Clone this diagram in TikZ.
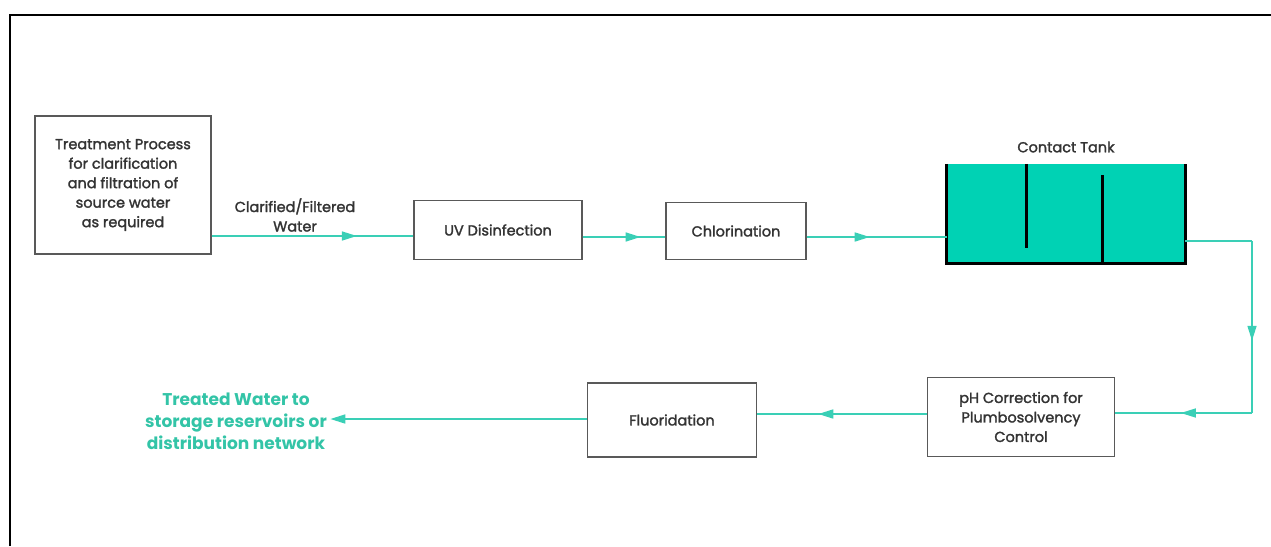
\documentclass[tikz,border=0pt]{standalone}
\usepackage{fontspec}
\setmainfont{Poppins}
\newfontfamily\boxfont[FakeBold=1.8]{Poppins}
\usepackage{xcolor}
\definecolor{flowcolor}{HTML}{3ACFB6}
\definecolor{tankcolor}{HTML}{00D2B4}
\definecolor{outcolor}{HTML}{33C4A7}
\colorlet{boxcolor}{black!65}
\colorlet{textcolor}{black!80}
\usetikzlibrary{
  arrows.meta,
  decorations.markings,
}

\begin{document}
\begin{tikzpicture}[x=1pt,y=-1pt]
	\tikzstyle{every node}=[font=\boxfont\fontsize{14.5}{19.5}\selectfont, text=textcolor]
	\tikzstyle{procbox}=[draw=boxcolor, line width=1.3pt, align=center, inner sep=0pt]
	\tikzstyle{flow}=[draw=flowcolor, line width=1.6pt]
	\tikzstyle{midarrow}=[flow, postaction={decorate}, decoration={markings,
		mark=at position #1 with {\arrow[flowcolor]{Triangle[length=15pt, width=9pt]}}}]
	\useasboundingbox (0,0) rectangle (1271,546);
	% frame
	\draw [line width=2pt] (10,546) -- (10,15) -- (1271,15);
	% process boxes
	\node (treat) [procbox, minimum width=176pt, minimum height=138pt] at (123,185) {Treatment Process\\for clarification\\and filtration of\\source water\\as required};
	\node (uv) [procbox, minimum width=168pt, minimum height=59pt] at (498,230) {UV Disinfection};
	\node (chl) [procbox, minimum width=140pt, minimum height=57pt] at (736,231) {Chlorination};
	\node (ph) [procbox, minimum width=187pt, minimum height=79pt] at (1021,417) {pH Correction for\\Plumbosolvency\\Control};
	\node (fluor) [procbox, minimum width=169pt, minimum height=74pt] at (672,420) {Fluoridation};
	% contact tank
	\node (tank) [fill=tankcolor, minimum width=238pt, minimum height=99pt, inner sep=0pt] at (1066,213.5) {};
	\draw [line width=3pt] (tank.north west) -- (tank.south west) -- (tank.south east) -- (tank.north east);
	\draw [line width=3pt] (tank.north west) ++(80,0) coordinate (baffleA) -- ++(0,84);
	\draw [line width=3pt] (tank.south west) ++(156,0) coordinate (baffleB) -- ++(0,-88);
	\node (tanklabel) at (1066,147) {Contact Tank};
	% labels
	\node (flabel) [align=center] at (295,215) {Clarified/Filtered\\Water};
	\node (outlabel) [text=outcolor, align=center, font=\fontsize{17}{22}\selectfont\bfseries] at (236,421) {Treated Water to\\storage reservoirs or\\distribution network};
	% flow lines
	\draw [midarrow=0.72] (treat.east |- 0,236) -- (uv.west |- 0,236);
	\draw [midarrow=0.7] (uv.east |- 0,237) -- (chl.west |- 0,237);
	\draw [midarrow=0.45] (chl.east |- 0,237) -- (tank.west |- 0,237);
	\coordinate (bend1) at (1252,241);
	\coordinate (bend2) at (1252,413);
	\draw [flow] (tank.east |- bend1) -- (bend1);
	\draw [midarrow=0.58] (bend1) -- (bend2);
	\draw [midarrow=0.52] (bend2) -- (ph.east |- bend2);
	\draw [midarrow=0.64] (ph.west |- 0,414) -- (fluor.east |- 0,414);
	\draw [flow, -{Triangle[length=15pt, width=9pt]}] (fluor.west |- 0,419) -- (outlabel.east |- 0,419);
\end{tikzpicture}
\end{document}
